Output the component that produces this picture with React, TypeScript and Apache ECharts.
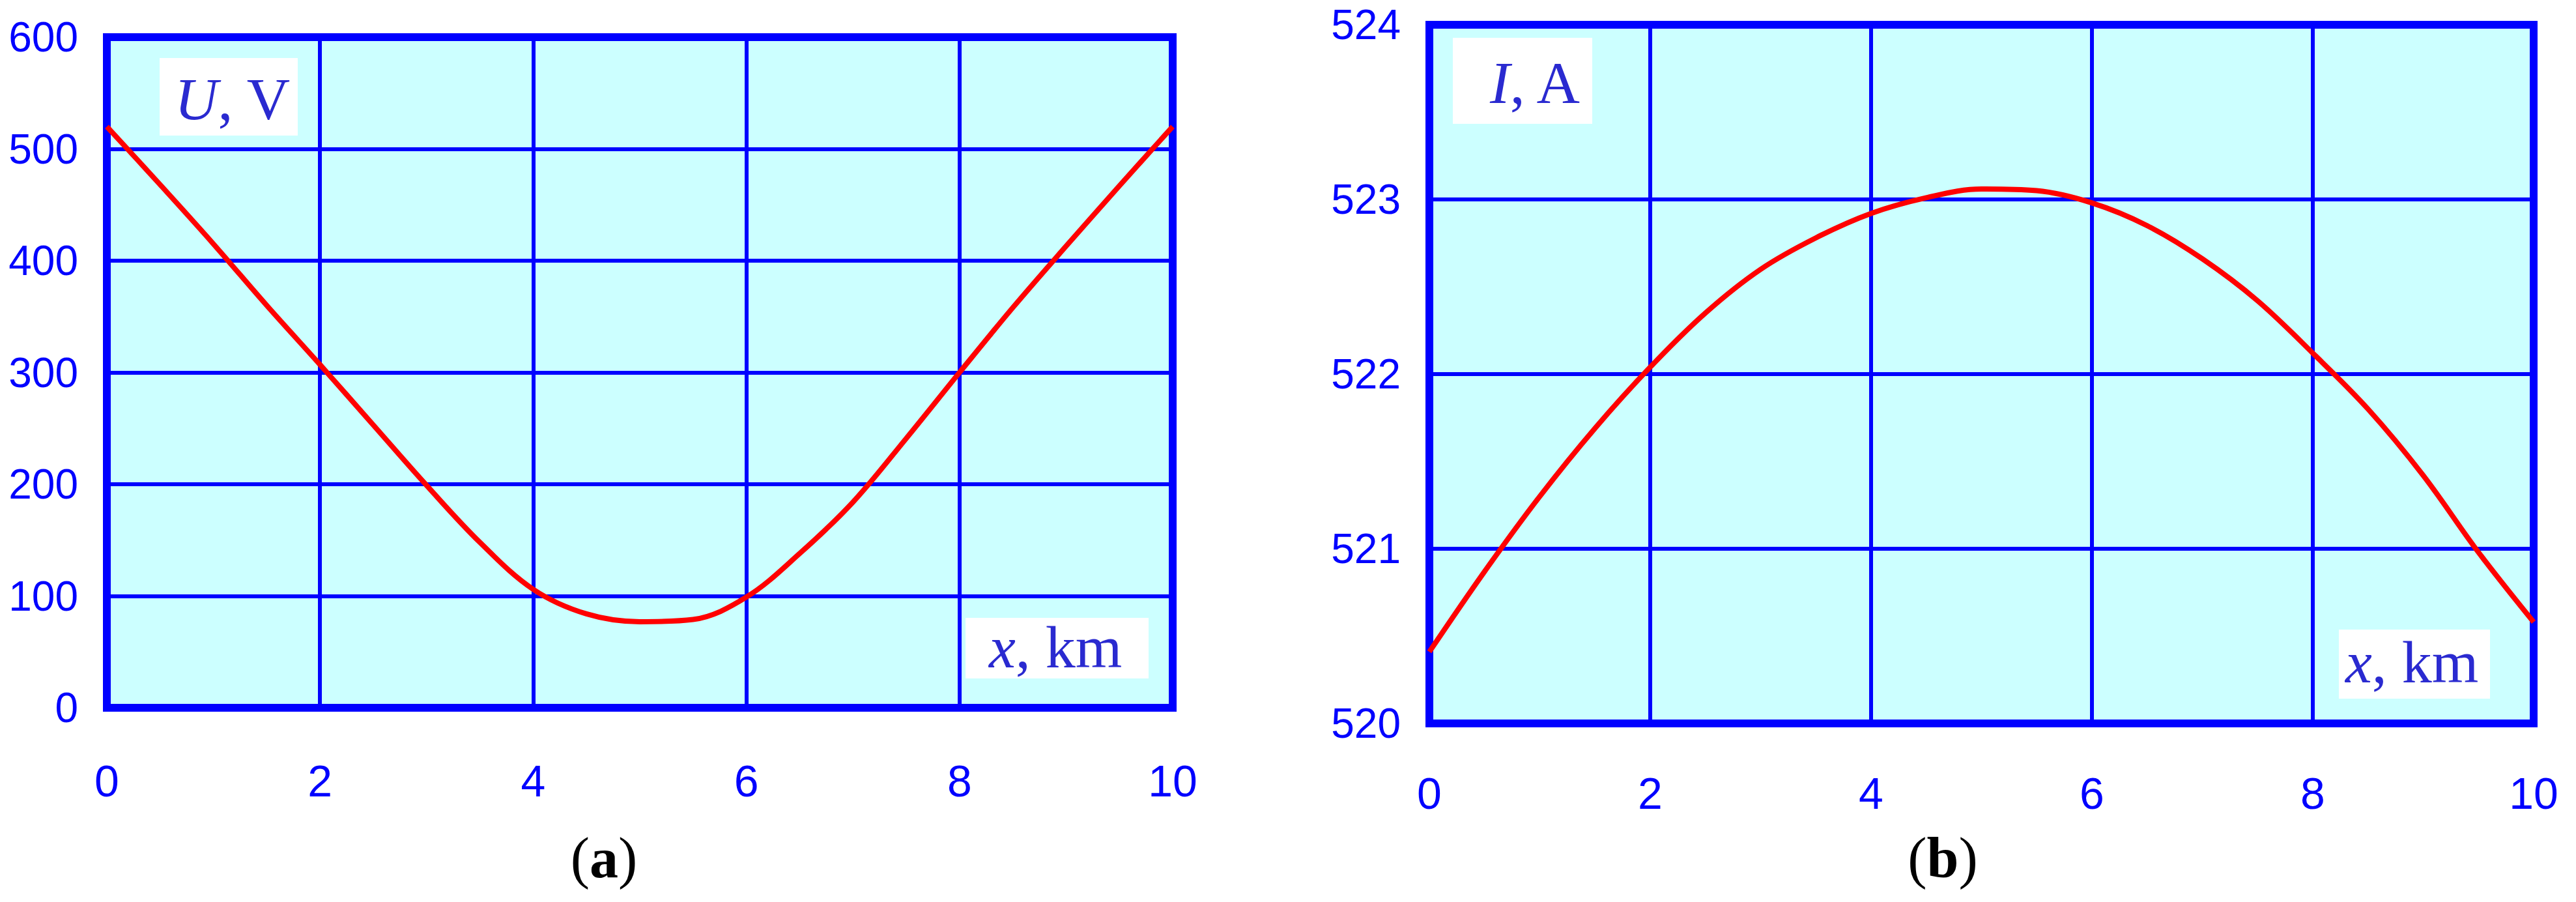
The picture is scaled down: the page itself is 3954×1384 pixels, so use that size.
import React, { useEffect, useRef } from "react";
import * as echarts from "echarts";

// Distance along the line, km
const xKm = [0, 0.5, 1, 1.5, 2, 2.5, 3, 3.5, 4, 4.5, 5, 5.5, 6, 6.5, 7, 7.5, 8, 8.5, 9, 9.5, 10];
// (a) Voltage U, V
const voltageV = [520, 468, 415, 360, 307, 253, 199, 148, 106, 84, 77, 79, 99, 138, 184, 241, 300, 358, 413, 467, 520];
// (b) Current I, A
const currentA = [520.41, 520.87, 521.3, 521.69, 522.04, 522.35, 522.6, 522.78, 522.92, 523.01, 523.06, 523.05, 522.98, 522.85, 522.66, 522.42, 522.12, 521.8, 521.42, 520.98, 520.58];

const xTicks = { min: 0, max: 10, interval: 2 };
const uTicks = { min: 0, max: 600, interval: 100 };
const iTicks = { min: 520, max: 524, interval: 1 };

const BLUE = "#0000ff";
const TEXT_BLUE = "#2a2ad0";
const SERIF = "'Liberation Serif', 'Times New Roman', serif";
const SANS = "'Liberation Sans', Arial, sans-serif";

function labelBox(x: number, y: number, w: number, h: number, tx: number, ty: number, italic: string, rest: string) {
  return [
    { type: "rect", z: 10, shape: { x, y, width: w, height: h }, style: { fill: "#ffffff" } },
    {
      type: "text",
      z: 11,
      x: tx,
      y: ty,
      style: {
        text: `{i|${italic}}{n|${rest}}`,
        align: "left",
        verticalAlign: "middle",
        rich: {
          i: { fontFamily: SERIF, fontStyle: "italic", fontSize: 92, fill: TEXT_BLUE, color: TEXT_BLUE },
          n: { fontFamily: SERIF, fontSize: 92, fill: TEXT_BLUE, color: TEXT_BLUE },
        },
      },
    },
  ];
}

export default function App() {
  const ref = useRef<HTMLDivElement>(null);
  useEffect(() => {
    if (!ref.current) return;
    const chart = echarts.init(ref.current, undefined, { renderer: "svg" });
    const xAxisBase = (gridIndex: number, margin: number) => ({
      type: "value",
      gridIndex,
      ...xTicks,
      axisLine: { show: false },
      axisTick: { show: false },
      splitLine: { show: true, lineStyle: { color: BLUE, width: 6 } },
      axisLabel: { color: BLUE, fontSize: 68, lineHeight: 70, fontFamily: SANS, margin },
    });
    const yAxisBase = (gridIndex: number, ticks: any) => ({
      type: "value",
      gridIndex,
      ...ticks,
      axisLine: { show: false },
      axisTick: { show: false },
      splitLine: { show: true, lineStyle: { color: BLUE, width: 6 } },
      axisLabel: { color: BLUE, fontSize: 64, fontFamily: SANS, margin: 44, padding: [12, 0, 0, 0] },
    });
    const option: any = {
      animation: false,
      backgroundColor: "#ffffff",
      grid: [
        { left: 164, top: 57, width: 1636, height: 1029, show: true, backgroundColor: "#ccffff", borderColor: BLUE, borderWidth: 12 },
        { left: 2194, top: 38, width: 1695, height: 1072, show: true, backgroundColor: "#ccffff", borderColor: BLUE, borderWidth: 12 },
      ],
      xAxis: [xAxisBase(0, 77), xAxisBase(1, 72)],
      yAxis: [yAxisBase(0, uTicks), yAxisBase(1, iTicks)],
      series: [
        {
          type: "line",
          xAxisIndex: 0,
          yAxisIndex: 0,
          data: xKm.map((x, i) => [x, voltageV[i]]),
          smooth: 0.35,
          showSymbol: false,
          lineStyle: { color: "#ff0000", width: 8 },
          z: 5,
        },
        {
          type: "line",
          xAxisIndex: 1,
          yAxisIndex: 1,
          data: xKm.map((x, i) => [x, currentA[i]]),
          smooth: 0.35,
          showSymbol: false,
          lineStyle: { color: "#ff0000", width: 8 },
          z: 5,
        },
      ],
      graphic: {
        elements: [
          ...labelBox(245, 89, 212, 119, 268, 152, "U", ", V"),
          ...labelBox(1482, 948, 281, 93, 1518, 993, "x", ", km"),
          ...labelBox(2230, 58, 214, 132, 2287, 127, "I", ", A"),
          ...labelBox(3590, 966, 232, 106, 3600, 1016, "x", ", km"),
          {
            type: "text",
            x: 927,
            y: 1316,
            style: {
              text: "({b|a})",
              align: "center",
              verticalAlign: "middle",
              fontFamily: SERIF,
              fontSize: 88,
              fill: "#000000",
              rich: { b: { fontFamily: SERIF, fontSize: 88, fontWeight: "bold", fill: "#000000" } },
            },
          },
          {
            type: "text",
            x: 2982,
            y: 1316,
            style: {
              text: "({b|b})",
              align: "center",
              verticalAlign: "middle",
              fontFamily: SERIF,
              fontSize: 88,
              fill: "#000000",
              rich: { b: { fontFamily: SERIF, fontSize: 88, fontWeight: "bold", fill: "#000000" } },
            },
          },
        ],
      },
    };
    chart.setOption(option);
    return () => chart.dispose();
  }, []);
  return (
    <div
      ref={ref}
      style={{ position: "absolute", left: 0, top: 0, width: 3954, height: 1384, background: "#ffffff" }}
    />
  );
}
